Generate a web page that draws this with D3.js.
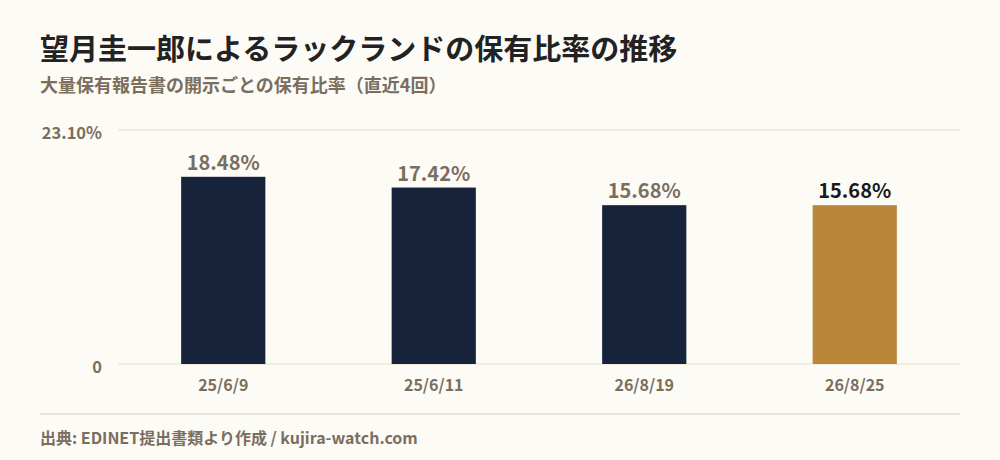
<!DOCTYPE html>
<html>
<head>
<meta charset="utf-8">
<script src="https://cdn.jsdelivr.net/npm/d3@7"></script>
<style>
  body { margin: 0; background: #fdfbf6; }
  svg { display: block; font-family: "Noto Sans CJK JP", "Noto Sans", sans-serif; }
</style>
</head>
<body>
<svg id="chart" width="1000" height="460"></svg>
<script>
// data
const dates  = ['25/6/9', '25/6/11', '26/8/19', '26/8/25'];
const ratios = [18.48, 17.42, 15.68, 15.68];
const yTicks = [0, 23.10];

const width  = 1000;
const height = 460;
const margin = { left: 118, right: 40, top: 130, bottom: 96 };

const svg = d3.select('#chart');
svg.append('rect').attr('width', width).attr('height', height).attr('fill', '#fdfbf6');

// titles
svg.append('text')
	.attr('x', 40).attr('y', 60)
	.attr('font-size', 29).attr('font-weight', 700).attr('fill', '#222')
	.text('望月圭一郎によるラックランドの保有比率の推移');
svg.append('text')
	.attr('x', 40).attr('y', 92)
	.attr('font-size', 18).attr('font-weight', 700).attr('fill', '#7a6e5e')
	.text('大量保有報告書の開示ごとの保有比率（直近4回）');

// scales
const x = d3.scaleBand()
	.domain(dates)
	.range([margin.left, width - margin.right])
	.paddingInner(0.6)
	.paddingOuter(0.3);
const y = d3.scaleLinear()
	.domain([0, 23.10])
	.range([height - margin.bottom, margin.top]);

// grid
svg.append('g').selectAll('line')
	.data(yTicks)
	.enter().append('line')
	.attr('x1', margin.left).attr('x2', width - margin.right)
	.attr('y1', d => y(d)).attr('y2', d => y(d))
	.attr('stroke', '#e8dfc8').attr('stroke-width', 1);

// y axis labels
const yAxis = svg.append('g')
	.attr('transform', `translate(${margin.left - 13},0)`)
	.call(d3.axisLeft(y).tickValues(yTicks).tickSize(0)
		.tickFormat(d => d === 0 ? '0' : d.toFixed(2) + '%'));
yAxis.select('.domain').remove();
yAxis.selectAll('text')
	.attr('font-family', '"Noto Sans CJK JP", sans-serif')
	.attr('font-size', 16.5).attr('font-weight', 700).attr('fill', '#7a6e5e')
	.attr('dy', '0.5em');

// x axis labels
const xAxis = svg.append('g')
	.attr('transform', `translate(0,${height - margin.bottom})`)
	.call(d3.axisBottom(x).tickSize(0).tickPadding(16));
xAxis.select('.domain').remove();
xAxis.selectAll('text')
	.attr('font-family', '"Noto Sans CJK JP", sans-serif')
	.attr('font-size', 16).attr('font-weight', 700).attr('fill', '#7a6e5e');

// bars
const last = dates.length - 1;
svg.append('g').selectAll('rect')
	.data(ratios)
	.enter().append('rect')
	.attr('x', (d, i) => x(dates[i]))
	.attr('y', d => y(d))
	.attr('width', x.bandwidth())
	.attr('height', d => y(0) - y(d))
	.attr('fill', (d, i) => i === last ? '#b8873a' : '#17223b');

// value labels
svg.append('g').selectAll('text')
	.data(ratios)
	.enter().append('text')
	.attr('x', (d, i) => x(dates[i]) + x.bandwidth() / 2)
	.attr('y', d => y(d) - 7)
	.attr('text-anchor', 'middle')
	.attr('font-size', 20).attr('font-weight', 600)
	.attr('fill', (d, i) => i === last ? '#1a1a1a' : '#7a6e5e')
	.text(d => d.toFixed(2) + '%');

// footer
svg.append('line')
	.attr('x1', 40).attr('x2', width - margin.right)
	.attr('y1', 414).attr('y2', 414)
	.attr('stroke', '#e6dccb').attr('stroke-width', 1.5);
svg.append('text')
	.attr('x', 40).attr('y', 444)
	.attr('font-size', 16).attr('font-weight', 700).attr('fill', '#7a6e5e')
	.text('出典: EDINET提出書類より作成 / kujira-watch.com');
</script>
</body>
</html>
